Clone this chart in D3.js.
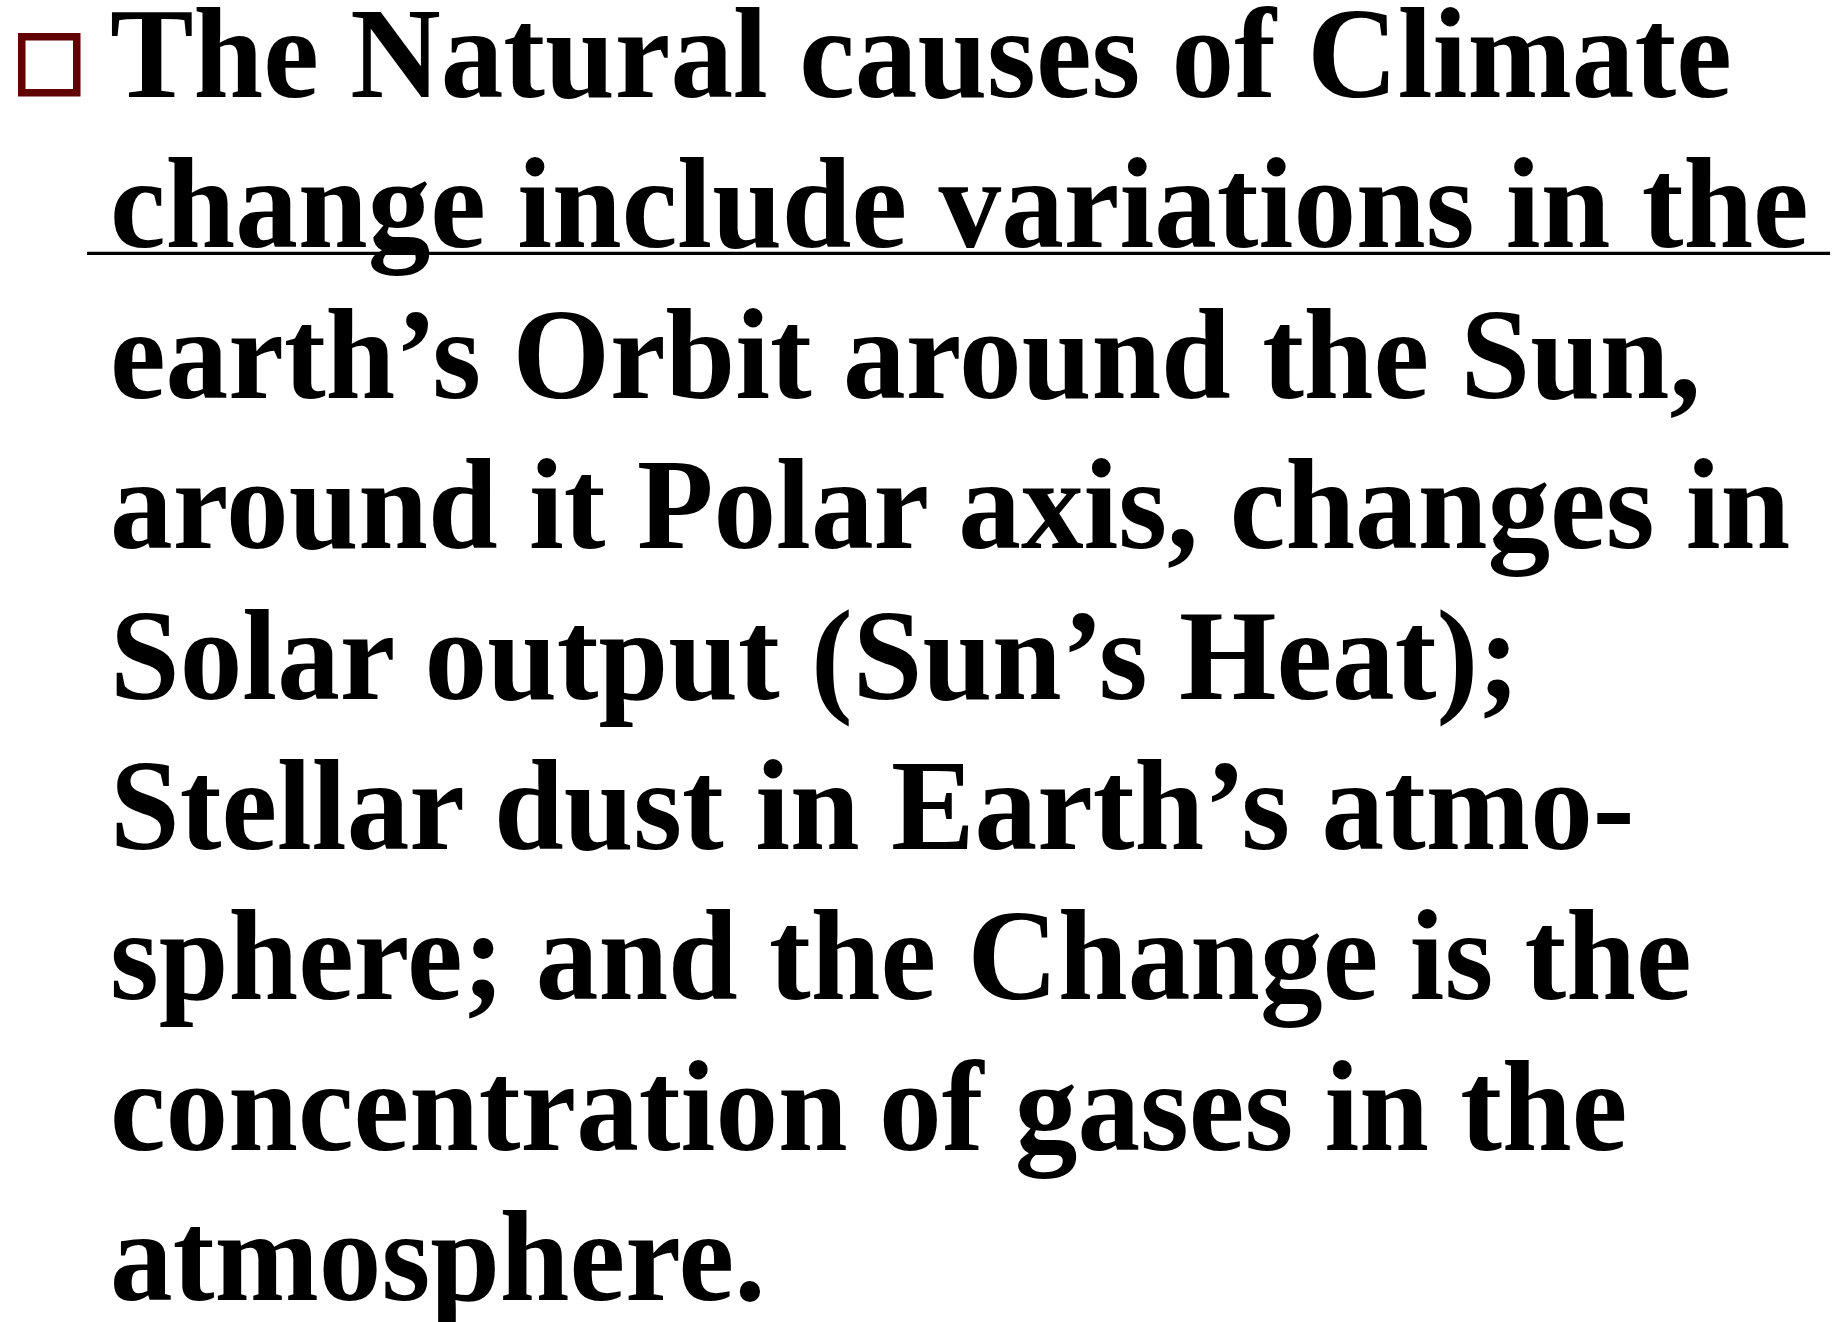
<!DOCTYPE html>
<html><head><meta charset="utf-8">
<script src="https://cdn.jsdelivr.net/npm/d3@7"></script>
<style>html,body{margin:0;padding:0;background:#fff;overflow:hidden}</style>
</head><body>
<svg id="c" width="1839" height="1322"></svg>
<script>
const lines = [
  "The Natural causes of Climate",
  "change include variations in the",
  "earth\u2019s Orbit around the Sun,",
  "around it Polar axis, changes in",
  "Solar output (Sun\u2019s Heat);",
  "Stellar dust in Earth\u2019s atmo-",
  "sphere; and the Change is the",
  "concentration of gases in the",
  "atmosphere."
];
const underlined = [false, true, false, false, false, false, false, false, false];

const svg = d3.select("#c");
const fontSize = 129;
const y = d3.scaleLinear().domain([0, 8]).range([97, 1300]);
const textX = 110;

// bullet
svg.append("rect").attr("x", 21.75).attr("y", 36.75).attr("width", 55).attr("height", 56)
  .attr("fill", "none").attr("stroke", "#600000").attr("stroke-width", 7.5);

const g = svg.append("g");
const texts = g.selectAll("text").data(lines).join("text")
  .attr("font-family", "'Liberation Serif','Times New Roman',serif")
  .attr("font-weight", "bold")
  .attr("font-size", fontSize)
  .attr("fill", "#000")
  .text(d => d);

// uniform horizontal compression, derived from first line
const w0 = texts.nodes()[0].getComputedTextLength();
const sx = 1622 / w0;
texts.attr("transform", (d, i) => `translate(${textX},${y(i)}) scale(${sx},1)`);

// underline for line 2 (spans the whole text box line)
lines.forEach((d, i) => {
  if (!underlined[i]) return;
  svg.append("line").attr("x1", 87).attr("x2", 1830)
    .attr("y1", y(i) + 6).attr("y2", y(i) + 6)
    .attr("stroke", "#000").attr("stroke-width", 3.2);
});
</script>
</body></html>
